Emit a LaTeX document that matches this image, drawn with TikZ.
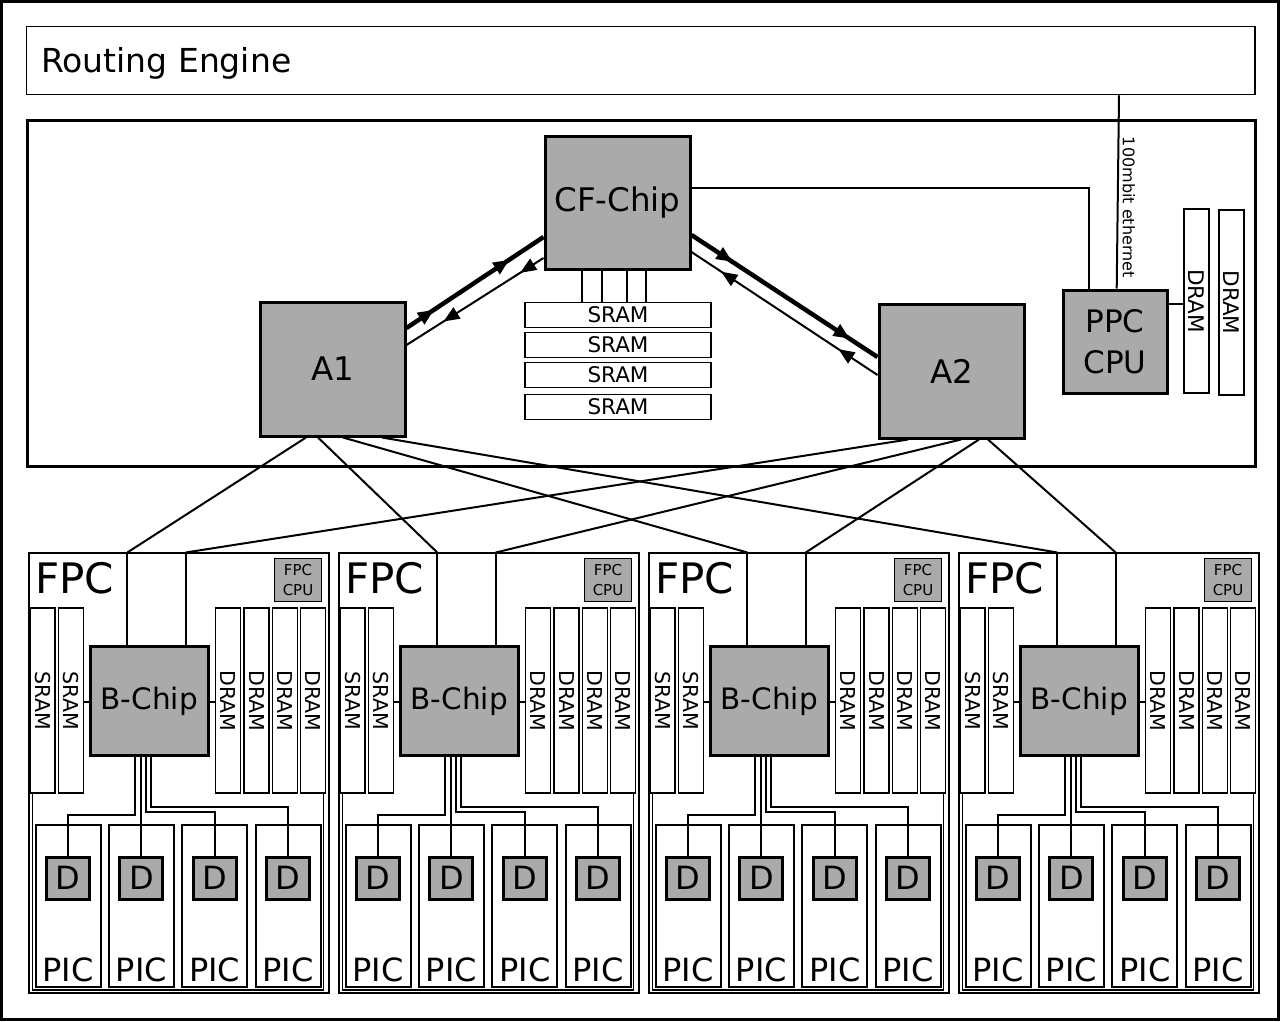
\documentclass[tikz,border=0pt]{standalone}
\usepackage{fontspec}
\setmainfont{DejaVu Sans}
\usetikzlibrary{positioning, arrows.meta, decorations.markings}
\definecolor{chipgray}{HTML}{AAAAAA}

\begin{document}
\begin{tikzpicture}[x=1pt, y=-1pt, line join=miter,
	chip/.style={draw, line width=3pt, fill=chipgray, inner sep=0pt},
	memh/.style={draw, line width=1.5pt, fill=white, inner sep=0pt, minimum width=186pt, minimum height=25pt, font=\fontsize{21.5}{25}\selectfont},
	memv/.style={draw, line width=1.5pt, fill=white, inner sep=0pt, minimum width=25pt, minimum height=185pt, font=\fontsize{20.5}{24}\selectfont},
	picbox/.style={draw, line width=2pt, inner sep=0pt, minimum width=65pt, minimum height=162.5pt},
	dchip/.style={chip, minimum width=43pt, minimum height=42pt, font=\fontsize{32}{36}\selectfont},
	link/.style={line width=2pt},
	arr/.style 2 args={postaction=decorate, decoration={markings,
		mark=at position #1 with {\arrow{Triangle[length=16pt,width=13pt]}},
		mark=at position #2 with {\arrow{Triangle[length=16pt,width=13pt]}}}}]
	\useasboundingbox (0,0) rectangle (1280,1021);
	\draw[line width=3pt] (1.5,1.5) rectangle (1278.5,1019.5);

	\node[draw, line width=1.5pt, minimum width=1228.5pt, minimum height=68pt] (re) at (640.75,60.5) {};
	\node[anchor=base west, inner sep=0pt, font=\fontsize{33}{38}\selectfont] (retitle) at (41,72.7) {Routing Engine};
	\node[draw, line width=3pt, minimum width=1227.5pt, minimum height=346.5pt] (fab) at (641.25,293.25) {};

	\node[chip, minimum width=145pt, minimum height=133pt, font=\fontsize{32.5}{38}\selectfont] (cf) at (617.5,202.5) {CF-Chip};
	\node[chip, minimum width=145pt, minimum height=134pt, font=\fontsize{32.5}{38}\selectfont] (a1) at (332.5,369) {A1};
	\node[chip, minimum width=145pt, minimum height=134pt, font=\fontsize{32.5}{38}\selectfont] (a2) at (951.5,371) {A2};
	\node[memh] (sr1) at (618,315) {SRAM};
	\node[memh] (sr2) at (618,345) {SRAM};
	\node[memh] (sr3) at (618,375) {SRAM};
	\node[memh] (sr4) at (618,407) {SRAM};
	\foreach \x in {582,602,627,646}
		\draw[link] (\x,0 |- cf.south) to (\x,0 |- sr1.north);

	\node[chip, minimum width=104pt, minimum height=103pt, align=center, font=\fontsize{31}{41}\selectfont] (ppc) at (1115,341.5) {PPC\\CPU};
	\node[memv, minimum height=184pt, font=\fontsize{21.5}{25}\selectfont] (pdr1) at (1196.5,301) {\rotatebox{-90}{DRAM}};
	\node[memv, font=\fontsize{21.5}{25}\selectfont] (pdr2) at (1231.5,302.5) {\rotatebox{-90}{DRAM}};
	\draw[link] (ppc.east |- 0,304) to (pdr1.west |- 0,304);
	\draw[link] (cf.east |- 0,188) -| (1089,0 |- ppc.north);
	\draw[link] (1119,0 |- re.south) -- node[pos=0.58, anchor=south, rotate=-90, inner sep=4pt, font=\fontsize{16}{19}\selectfont] {100mbit ethernet} (ppc.north -| 1116.7,0);

	\draw[line width=4.5pt, arr={0.2}{0.75}] (a1.east |- 0,328) -- (cf.west |- 0,237);
	\draw[link, arr={0.17}{0.73}] (cf.west |- 0,258) -- (a1.east |- 0,345);
	\draw[line width=4.5pt, arr={0.22}{0.85}] (cf.east |- 0,235) -- (a2.west |- 0,357);
	\draw[link, arr={0.21}{0.84}] (a2.west |- 0,375) -- (cf.east |- 0,252);

	\foreach \i in {0,...,3} {
	\begin{scope}[xshift=\i*310]
		\node[draw, line width=2pt, minimum width=300pt, minimum height=440.2pt] (fpc\i) at (179.3,772.6) {};
		\draw[line width=1.5pt] (32.5,608) -- (32.5,990) -- (323.5,990) -- (323.5,608);
		\node[anchor=base west, inner sep=0pt, font=\fontsize{42}{48}\selectfont] (fpclbl\i) at (35,593) {FPC};
		\node[draw, line width=1.5pt, fill=chipgray, inner sep=0pt, minimum width=47.4pt, minimum height=43.4pt, align=center, font=\fontsize{15}{20}\selectfont] (fcpu\i) at (298,580) {FPC\\CPU};
		\node[memv] (s\i-1) at (42.5,700.7) {\rotatebox{-90}{SRAM}};
		\node[memv] (s\i-2) at (70.8,700.7) {\rotatebox{-90}{SRAM}};
		\foreach \k in {1,...,4}
			\node[memv] (dr\i-\k) at ({228.2+28.33*(\k-1)},700.7) {\rotatebox{-90}{DRAM}};
		\node[chip, minimum width=118.3pt, minimum height=109.3pt, font=\fontsize{29.5}{35}\selectfont] (b\i) at (149.2,701.3) {B-Chip};
		\draw[link] (s\i-2.east |- 0,702) to (b\i.west |- 0,702);
		\draw[link] (b\i.east |- 0,702) to (dr\i-1.west |- 0,702);
		\coordinate (inL\i) at (127.3,552.5);
		\coordinate (inR\i) at (185.7,552.5);
		\draw[link] (inL\i) to (inL\i |- b\i.north);
		\draw[link] (inR\i) to (inR\i |- b\i.north);
		\foreach \k in {0,...,3} {
			\node[picbox] (pic\i-\k) at ({68+73.4*\k},906.2) {};
			\node[dchip] (d\i-\k) at ({68+73.4*\k},878.3) {D};
			\node[anchor=base, inner sep=0pt, font=\fontsize{32}{36}\selectfont] (piclbl\i-\k) at ({68+73.4*\k},981) {PIC};
		}
		\foreach \k/\bx/\by in {0/135/815, 2/145.5/812, 3/151/807}
			\draw[link] (\bx,0 |- b\i.south) |- (d\i-\k.north |- 0,\by) -- (d\i-\k.north);
		\draw[link] (d\i-1.north |- b\i.south) to (d\i-1.north);
	\end{scope}
	}

	\foreach \x/\i in {306/0, 318/1, 343/2, 382/3}
		\draw[link] (\x,0 |- a1.south) to (inL\i);
	\foreach \x/\i in {908/0, 961/1, 979/2, 988/3}
		\draw[link] (\x,0 |- a2.south) to (inR\i);
\end{tikzpicture}
\end{document}
